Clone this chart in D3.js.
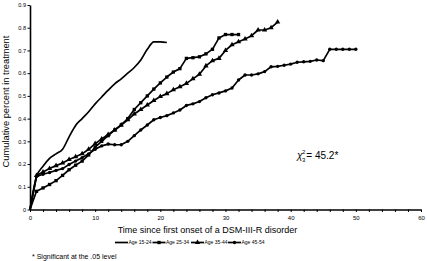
<!DOCTYPE html>
<html>
<head>
<meta charset="utf-8">
<script src="https://cdn.jsdelivr.net/npm/d3@7"></script>
<style>
body{margin:0;background:#fff}
text{font-family:Arial,"Liberation Sans",Helvetica,sans-serif;fill:#000}
</style>
</head>
<body>
<div id="chart"></div>
<script>
// values
const years1524 = [0,1,2,3,4,5,6,7,8,9,10,11,12,13,14,15,16,17,18,19,20,21]
const age1524 = [0,.145,.19,.225,.245,.265,.32,.37,.40,.43,.465,.495,.525,.553,.575,.60,.625,.658,.705,.738,.738,.735]

const age2534 = [0,.08,.095,.11,.127,.15,.175,.195,.213,.24,.275,.30,.325,.35,.372,.40,.44,.47,.50,.53,.557,.583,.605,.62,.665,.668,.672,.685,.705,.755,.77,.77,.77]

const age3544 = [0,.15,.165,.18,.193,.205,.22,.232,.245,.265,.29,.31,.33,.35,.372,.395,.42,.44,.46,.48,.497,.51,.527,.54,.555,.575,.595,.632,.655,.665,.70,.725,.738,.75,.765,.79,.79,.80,.825]

const age4554 = [0,.145,.155,.163,.172,.18,.198,.213,.228,.245,.265,.28,.288,.285,.285,.30,.325,.35,.372,.395,.405,.413,.425,.438,.458,.465,.475,.492,.505,.513,.522,.535,.57,.592,.592,.597,.607,.628,.63,.635,.64,.648,.65,.652,.658,.655,.705,.705,.705,.705,.705]

const seriesNames = ["Age 15-24","Age 25-34","Age 35-44","Age 45-54"]
const xTicks = [0,10,20,30,40,50,60]
const yTicks = [0,.1,.2,.3,.4,.5,.6,.7,.8,.9]

const margin = {top:5,left:30}
const width = 391
const height = 204.5

const svg = d3.select("#chart")
    .append("svg")
    .attr("width",427)
    .attr("height",261)

const g = svg.append("g")
    .attr("transform",`translate(${margin.left},${margin.top})`)

const x = d3.scaleLinear().domain([0,60]).range([0,width])
const y = d3.scaleLinear().domain([0,.9]).range([height,0])

// axes
const xAxis = g.append("g")
    .attr("transform",`translate(0,${height})`)
    .call(d3.axisBottom(x)
        .tickValues(d3.range(0,61,2))
        .tickFormat(d => xTicks.includes(d) ? d : "")
        .tickSize(2.5)
        .tickSizeOuter(0))
xAxis.select(".domain").attr("stroke-width",1.6)
xAxis.selectAll(".tick line").attr("stroke-width",1)
xAxis.selectAll(".tick text").style("font-size","6px").attr("y",6)

const yAxis = g.append("g")
    .call(d3.axisLeft(y)
        .tickValues(yTicks)
        .tickFormat(d => d === 0 ? "0" : d3.format(".1f")(d))
        .tickSize(2.5)
        .tickSizeOuter(0))
yAxis.select(".domain").attr("stroke-width",1.6)
yAxis.selectAll(".tick text").style("font-size","5.6px").attr("x",-4)

// lines
const makeSeries = (vals, years) => vals.map((v,i) => ({x: years ? years[i] : i, y: v}))
const data = [
    {name: seriesNames[0], values: makeSeries(age1524, years1524), symbol: null},
    {name: seriesNames[1], values: makeSeries(age2534), symbol: d3.symbolSquare, size: 11},
    {name: seriesNames[2], values: makeSeries(age3544), symbol: d3.symbolTriangle, size: 12},
    {name: seriesNames[3], values: makeSeries(age4554), symbol: d3.symbolCircle, size: 9}
]

const line = d3.line().x(d => x(d.x)).y(d => y(d.y))
const smooth = d3.line().x(d => x(d.x)).y(d => y(d.y)).curve(d3.curveMonotoneX)

data.forEach(s => {
    g.append("path")
        .datum(s.values)
        .attr("fill","none")
        .attr("stroke","#000")
        .attr("stroke-width",1.7)
        .attr("stroke-linejoin","round")
        .attr("d", s.symbol ? line : smooth)

    if(s.symbol){
        g.selectAll(null)
            .data(s.values.slice(1))
            .join("path")
            .attr("transform", d => `translate(${x(d.x)},${y(d.y)})`)
            .attr("d", d3.symbol(s.symbol, s.size))
            .attr("fill","#000")
    }
})

// chi square note
const chi = svg.append("text")
    .attr("x",297)
    .attr("y",159)
    .style("font-size","10px")
chi.append("tspan").text("χ").style("font-style","italic")
chi.append("tspan").text("2").attr("dx",-0.5).attr("dy",-5).style("font-size","6px")
chi.append("tspan").text("3").attr("dx",-3.3).attr("dy",8).style("font-size","6px")
chi.append("tspan").text("= 45.2*").attr("dx",1).attr("dy",-3)

// axis titles
svg.append("text")
    .attr("x",207.5)
    .attr("y",233)
    .attr("text-anchor","middle")
    .style("font-size","9px")
    .text("Time since first onset of a DSM-III-R disorder")

svg.append("text")
    .attr("transform","translate(9,101.5) rotate(-90)")
    .attr("text-anchor","middle")
    .style("font-size","9.3px")
    .text("Cumulative percent in treatment")

// legend
const legendX = [115,152.5,191,228]
const legend = svg.append("g").attr("transform","translate(0,242.5)")
data.forEach((s,i) => {
    const lg = legend.append("g").attr("transform",`translate(${legendX[i]},0)`)
    lg.append("line")
        .attr("x1",0).attr("x2",13)
        .attr("stroke","#000").attr("stroke-width",1.7)
    if(s.symbol){
        lg.append("path")
            .attr("transform","translate(6.5,0)")
            .attr("d", d3.symbol(s.symbol, s.size))
            .attr("fill","#000")
    }
    lg.append("text")
        .attr("x",13.5)
        .attr("y",1.8)
        .style("font-size","5px")
        .text(s.name)
})

svg.append("text")
    .attr("x",32)
    .attr("y",259)
    .style("font-size","7px")
    .text("* Significant at the .05 level")
</script>
</body>
</html>
